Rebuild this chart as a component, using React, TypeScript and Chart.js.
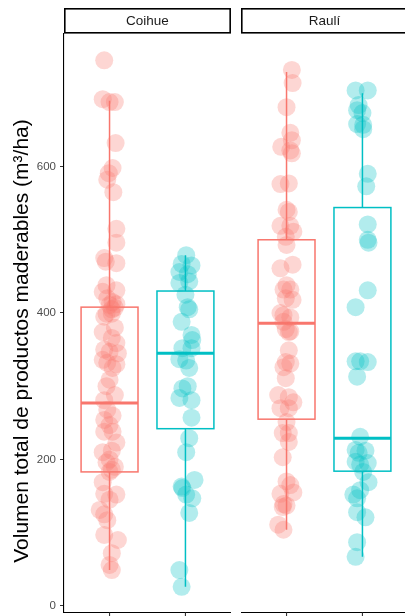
import React, { useEffect, useRef } from 'react';
import { Chart, registerables } from 'chart.js';

Chart.register(...registerables);

// ---------- data ----------
const facets = ['Coihue', 'Raulí'];
const groupColors = ['#F8766D', '#00BFC4'];

const coihueRedValues = [745, 692, 688, 688, 632, 598, 591, 582, 565, 515, 496, 475, 470, 468, 438, 429, 431, 420, 415, 412, 411, 407, 405, 399, 399, 395, 380, 374, 366, 359, 350, 347, 345, 336, 332, 330, 325, 309, 300, 288, 281, 268, 260, 254, 247, 238, 238, 223, 212, 210, 200, 196, 190, 186, 183, 169, 153, 152, 145, 131, 125, 117, 97, 90, 72, 56, 49];
const coihueRedJitter = [-0.07, -0.09, 0, 0.07, 0.08, 0.04, -0.01, -0.03, 0.05, 0.09, 0.09, -0.07, -0.05, 0.09, -0.04, -0.09, 0.09, -0.03, 0.04, 0.09, 0, 0.07, 0.03, -0.04, 0.03, -0.07, 0.07, -0.09, 0.03, 0.09, -0.07, 0, 0.11, -0.09, -0.03, 0.09, 0.04, 0, -0.04, 0.07, -0.07, -0.03, 0.04, -0.07, 0, -0.07, 0.04, 0.09, 0.03, -0.09, 0, -0.04, 0.07, 0.03, 0, -0.09, -0.07, 0.09, 0, -0.13, -0.07, -0.03, -0.07, 0.11, 0.03, 0, 0.03];

const coihueCyanValues = [479, 467, 465, 456, 453, 443, 441, 425, 408, 405, 388, 370, 363, 352, 352, 337, 335, 325, 300, 297, 284, 281, 257, 229, 210, 172, 163, 161, 152, 147, 127, 49, 26];
const coihueCyanJitter = [0.01, -0.05, 0.08, -0.08, 0.03, 0.05, -0.08, 0, 0.03, 0.05, -0.05, 0.08, 0.09, -0.04, 0.08, -0.08, 0.01, 0.05, 0.03, -0.04, -0.08, 0.08, 0.08, 0.05, 0.01, 0.12, -0.05, -0.04, 0.01, 0.09, 0.05, -0.08, -0.05];

const rauliRedValues = [732, 714, 681, 646, 636, 627, 622, 618, 577, 576, 541, 538, 519, 519, 511, 504, 493, 466, 461, 438, 432, 432, 420, 418, 400, 397, 394, 388, 378, 375, 374, 349, 333, 331, 326, 311, 288, 285, 278, 270, 270, 251, 236, 236, 224, 203, 170, 165, 155, 153, 139, 137, 135, 111, 104];
const rauliRedJitter = [0.07, 0.08, 0, 0.05, 0.07, -0.07, 0.05, 0.07, 0.03, -0.08, 0, 0.03, -0.08, 0.05, 0.09, -0.01, 0, 0.08, -0.08, 0, -0.04, 0.05, -0.01, 0.08, -0.08, -0.04, 0.05, -0.04, -0.01, 0.05, 0.03, 0.03, -0.01, 0.05, -0.04, -0.01, -0.11, 0.03, 0.09, -0.08, 0.03, 0, -0.05, 0.03, 0.03, -0.05, 0, 0.05, 0.09, -0.08, -0.04, 0, -0.05, -0.11, -0.04];

const rauliCyanValues = [704, 704, 684, 677, 673, 658, 657, 651, 590, 573, 521, 500, 496, 431, 408, 334, 334, 333, 313, 231, 213, 212, 209, 197, 195, 193, 183, 169, 158, 152, 147, 128, 121, 87, 67];
const rauliCyanJitter = [-0.09, 0.07, -0.05, -0.07, 0, -0.07, 0.01, 0.01, 0.07, 0.05, 0.07, 0.07, 0.08, 0.07, -0.09, -0.09, -0.03, 0.07, -0.07, -0.03, -0.09, 0.04, -0.05, -0.09, 0.07, -0.03, 0.01, 0.08, -0.03, -0.12, -0.07, -0.07, 0.04, -0.07, -0.09];

// box statistics (order: Coihue red, Coihue cyan, Raulí red, Raulí cyan)
const boxLow = [49, 26, 104, 67];
const boxQ1 = [183, 242, 255, 184];
const boxMedian = [277, 345, 386, 229];
const boxQ3 = [408, 430, 500, 544];
const boxHigh = [690, 479, 729, 700];

const yTicks = [0, 200, 400, 600];
const yTitle = 'Volumen total de productos maderables (m³/ha)';

// ---------- layout constants ----------
const PANEL_UNITS = 2.2;
const GAP_UNITS = 0.132;
const X_MIN = 0.4;
const X_MAX = 4.8928;
const BOX_HALF = 0.375;
const FONT = '"Liberation Sans", Arial, sans-serif';

const facetOffset = (f: number) => f * (PANEL_UNITS + GAP_UNITS);
const centerOf = (f: number, g: number) => facetOffset(f) + g + 1;

const series = [
  { f: 0, g: 0, values: coihueRedValues, jitter: coihueRedJitter },
  { f: 0, g: 1, values: coihueCyanValues, jitter: coihueCyanJitter },
  { f: 1, g: 0, values: rauliRedValues, jitter: rauliRedJitter },
  { f: 1, g: 1, values: rauliCyanValues, jitter: rauliCyanJitter },
];

const alphaColor = (hex: string, a: number) => {
  const r = parseInt(hex.slice(1, 3), 16);
  const g = parseInt(hex.slice(3, 5), 16);
  const b = parseInt(hex.slice(5, 7), 16);
  return `rgba(${r},${g},${b},${a})`;
};

const facetPlugin = {
  id: 'facetDecor',
  beforeDatasetsDraw(chart: any) {
    const { ctx, scales } = chart;
    const x = scales.x;
    const y = scales.y;
    series.forEach((s, i) => {
      const c = centerOf(s.f, s.g);
      const cx = x.getPixelForValue(c);
      const l = x.getPixelForValue(c - BOX_HALF);
      const r = x.getPixelForValue(c + BOX_HALF);
      const pLow = y.getPixelForValue(boxLow[i]);
      const pQ1 = y.getPixelForValue(boxQ1[i]);
      const pMed = y.getPixelForValue(boxMedian[i]);
      const pQ3 = y.getPixelForValue(boxQ3[i]);
      const pHigh = y.getPixelForValue(boxHigh[i]);
      ctx.save();
      ctx.strokeStyle = groupColors[s.g];
      ctx.lineWidth = 1.5;
      ctx.beginPath();
      ctx.moveTo(cx, pLow);
      ctx.lineTo(cx, pQ1);
      ctx.moveTo(cx, pQ3);
      ctx.lineTo(cx, pHigh);
      ctx.stroke();
      ctx.strokeRect(l, pQ3, r - l, pQ1 - pQ3);
      ctx.lineWidth = 3;
      ctx.beginPath();
      ctx.moveTo(l, pMed);
      ctx.lineTo(r, pMed);
      ctx.stroke();
      ctx.restore();
    });
  },
  afterDraw(chart: any) {
    const { ctx, scales, chartArea } = chart;
    const x = scales.x;
    ctx.save();
    facets.forEach((name, f) => {
      const left = x.getPixelForValue(facetOffset(f) + X_MIN);
      const right = x.getPixelForValue(facetOffset(f) + X_MIN + PANEL_UNITS);
      // strip
      ctx.fillStyle = '#FFFFFF';
      ctx.fillRect(left, 8, right - left, 25);
      ctx.strokeStyle = '#000000';
      ctx.lineWidth = 1.6;
      ctx.strokeRect(left + 0.8, 8.8, right - left - 1.6, 24);
      ctx.fillStyle = '#1A1A1A';
      ctx.font = `13.5px ${FONT}`;
      ctx.textAlign = 'center';
      ctx.textBaseline = 'middle';
      ctx.fillText(name, (left + right) / 2, 21);
      // bottom axis
      const b = chartArea.bottom;
      ctx.strokeStyle = '#000000';
      ctx.lineWidth = 1.1;
      ctx.beginPath();
      ctx.moveTo(left, b);
      ctx.lineTo(right, b);
      ctx.stroke();
      ctx.strokeStyle = '#333333';
      ctx.beginPath();
      [0, 1].forEach((g) => {
        const cx = x.getPixelForValue(centerOf(f, g));
        ctx.moveTo(cx, b);
        ctx.lineTo(cx, b + 5);
      });
      ctx.stroke();
    });
    // y axis title
    ctx.translate(22, 341);
    ctx.rotate(-Math.PI / 2);
    ctx.fillStyle = '#000000';
    ctx.font = `21px ${FONT}`;
    ctx.textAlign = 'center';
    ctx.textBaseline = 'middle';
    ctx.fillText(yTitle, 0, 0);
    ctx.restore();
  },
};

export default function App() {
  const canvasRef = useRef<HTMLCanvasElement | null>(null);

  useEffect(() => {
    const canvas = canvasRef.current;
    if (!canvas) return;
    const datasets = series.map((s) => ({
      label: `${facets[s.f]}-${s.g}`,
      data: s.values.map((v, k) => ({ x: centerOf(s.f, s.g) + s.jitter[k], y: v })),
      backgroundColor: alphaColor(groupColors[s.g], 0.3),
      borderWidth: 0,
      pointRadius: 9,
      pointHoverRadius: 9,
    }));
    const chart = new Chart(canvas, {
      type: 'scatter',
      data: { datasets },
      options: {
        animation: false,
        responsive: false,
        devicePixelRatio: 1,
        events: [],
        layout: { autoPadding: false, padding: { top: 34, bottom: 3.5, left: 0, right: 0 } },
        plugins: { legend: { display: false }, tooltip: { enabled: false } },
        scales: {
          x: { type: 'linear', min: X_MIN, max: X_MAX, display: false },
          y: {
            type: 'linear',
            min: -9,
            max: 781,
            afterBuildTicks: (scale: any) => {
              scale.ticks = yTicks.map((v) => ({ value: v }));
            },
            afterFit: (scale: any) => {
              scale.width = 64;
              scale.paddingTop = 0;
              scale.paddingBottom = 0;
            },
            grid: { display: true, drawOnChartArea: false, drawTicks: true, tickLength: 4, color: '#333333', lineWidth: 1 },
            border: { display: true, color: '#000000', width: 1.1 },
            ticks: {
              padding: 4,
              color: '#4D4D4D',
              font: { family: FONT, size: 11.5 },
            },
            title: { display: false },
          },
        },
      },
      plugins: [facetPlugin],
    });
    return () => chart.destroy();
  }, []);

  return (
    <div style={{ position: 'fixed', left: 0, top: 0, width: 405, height: 616, background: '#FFFFFF' }}>
      <canvas ref={canvasRef} width={405} height={616} />
    </div>
  );
}
